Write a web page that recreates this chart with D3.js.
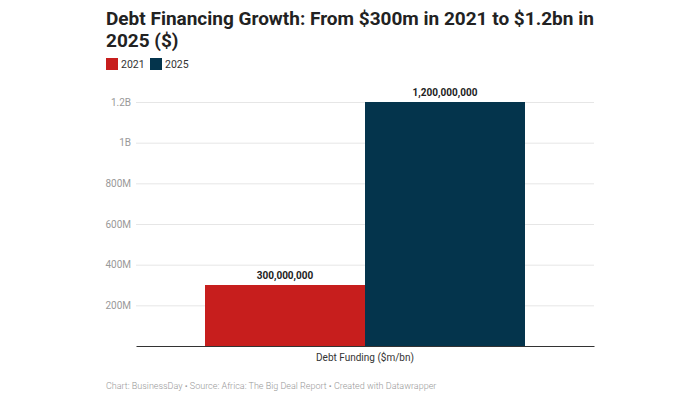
<!DOCTYPE html>
<html><head><meta charset="utf-8">
<script src="https://cdn.jsdelivr.net/npm/d3@7"></script>
<style>body{margin:0;background:#fff;font-family:Roboto,sans-serif}</style>
</head><body><svg id="c" width="700" height="400"></svg>
<script>
const categories = ["Debt Funding ($m/bn)"];
const seriesNames = ["2021", "2025"];
const seriesValues = [300000000, 1200000000];
const seriesColors = ["#c71e1d", "#04344c"];
const yTicks = [200000000, 400000000, 600000000, 800000000, 1000000000, 1200000000];
const yTickLabels = ["200M", "400M", "600M", "800M", "1B", "1.2B"];

const svg = d3.select("#c");
const mLeft = 136, mRight = 594, mTop = 102, mBottom = 346;

svg.append("text").attr("x", 106).attr("y", 25).attr("font-size", 19).attr("font-weight", 700).attr("fill", "#222")
  .text("Debt Financing Growth: From $300m in 2021 to $1.2bn in");
svg.append("text").attr("x", 106).attr("y", 47).attr("font-size", 19).attr("font-weight", 700).attr("fill", "#222")
  .text("2025 ($)");

const lg = svg.append("g");
let lx = 106;
seriesNames.forEach((s, i) => {
  lg.append("rect").attr("x", lx).attr("y", 58).attr("width", 12).attr("height", 12).attr("fill", seriesColors[i]);
  lg.append("text").attr("x", lx + 15).attr("y", 68).attr("font-size", 10.5).attr("fill", "#333").text(s);
  lx += 44;
});

const y = d3.scaleLinear().domain([0, 1200000000]).range([mBottom, mTop]);
const x0 = d3.scaleBand().domain(categories).range([mLeft, mRight]).paddingInner(0).paddingOuter((458 / 320 - 1) / 2);
const x1 = d3.scaleBand().domain(seriesNames).range([0, x0.bandwidth()]).padding(0);

const gy = svg.append("g").attr("transform", `translate(${mLeft},0)`)
  .call(d3.axisLeft(y).tickValues(yTicks).tickFormat((d, i) => yTickLabels[i]).tickSize(-(mRight - mLeft)).tickPadding(5));
gy.select(".domain").remove();
gy.selectAll(".tick line").attr("stroke", "#e6e6e6");
gy.selectAll(".tick text").attr("fill", "#999").attr("font-size", 10).attr("font-family", "Roboto");

const g = svg.append("g");
categories.forEach(c => {
  seriesNames.forEach((s, i) => {
    const v = seriesValues[i];
    const bx = x0(c) + x1(s);
    g.append("rect").attr("x", bx).attr("y", y(v)).attr("width", x1.bandwidth()).attr("height", mBottom - y(v)).attr("fill", seriesColors[i]);
    g.append("text").attr("x", bx + x1.bandwidth() / 2).attr("y", y(v) - 6).attr("text-anchor", "middle")
      .attr("font-size", 10).attr("font-weight", 700).attr("fill", "#222").text(d3.format(",")(v));
  });
});

const gx = svg.append("g").attr("transform", `translate(0,${mBottom})`).call(d3.axisBottom(x0).tickSize(0).tickPadding(8));
gx.select(".domain").attr("stroke", "#333");
gx.selectAll(".tick text").attr("fill", "#333").attr("font-size", 10).attr("font-family", "Roboto");

svg.append("text").attr("x", 106).attr("y", 389).attr("font-size", 9).attr("font-weight", 300).attr("fill", "#999")
  .text("Chart: BusinessDay • Source: Africa: The Big Deal Report • Created with Datawrapper");
</script></body></html>
